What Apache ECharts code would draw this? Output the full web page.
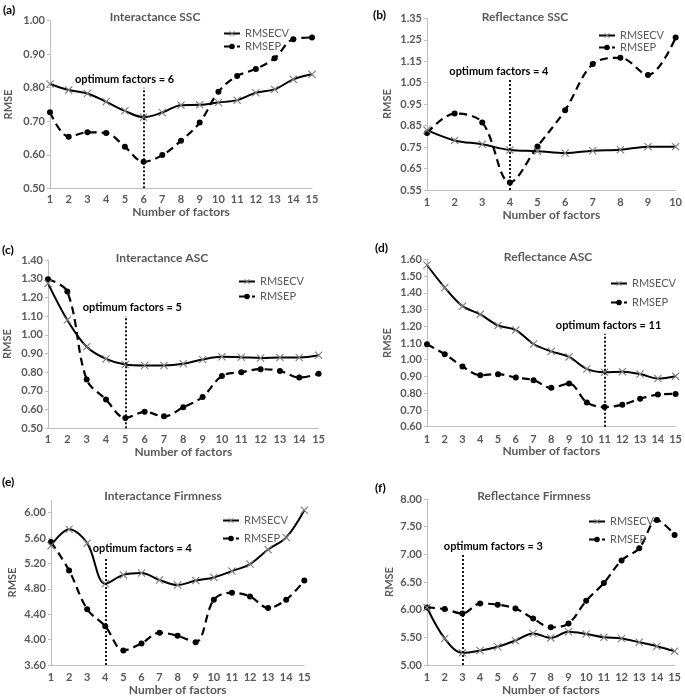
<!DOCTYPE html>
<html>
<head>
<meta charset="utf-8">
<script src="https://cdn.jsdelivr.net/npm/echarts@6/dist/echarts.min.js"></script>
<style>
html, body { margin: 0; padding: 0; background: #fff; }
#chart { width: 685px; height: 697px; }
</style>
</head>
<body>
<div id="chart"></div>
<script>
// number of factors
const factors15 = ['1', '2', '3', '4', '5', '6', '7', '8', '9', '10', '11', '12', '13', '14', '15'];
const factors10 = ['1', '2', '3', '4', '5', '6', '7', '8', '9', '10'];

// (a) Interactance SSC
const interSscCV = [0.811, 0.793, 0.783, 0.758, 0.731, 0.712, 0.726, 0.748, 0.749, 0.756, 0.763, 0.785, 0.795, 0.825, 0.840];
const interSscEP = [0.727, 0.654, 0.667, 0.665, 0.624, 0.579, 0.599, 0.642, 0.696, 0.788, 0.835, 0.856, 0.888, 0.945, 0.950];
const interSscTicks = [0.5, 0.6, 0.7, 0.8, 0.9, 1.0];

// (b) Reflectance SSC
const reflSscCV = [0.829, 0.781, 0.763, 0.736, 0.731, 0.722, 0.733, 0.738, 0.752, 0.752];
const reflSscEP = [0.815, 0.906, 0.865, 0.585, 0.753, 0.922, 1.137, 1.166, 1.086, 1.260];
const reflSscTicks = [0.55, 0.65, 0.75, 0.85, 0.95, 1.05, 1.15, 1.25, 1.35];

// (c) Interactance ASC
const interAscCV = [1.275, 1.079, 0.936, 0.871, 0.841, 0.836, 0.836, 0.845, 0.868, 0.882, 0.880, 0.876, 0.879, 0.879, 0.891];
const interAscEP = [1.297, 1.231, 0.761, 0.654, 0.555, 0.588, 0.564, 0.612, 0.668, 0.780, 0.800, 0.816, 0.807, 0.771, 0.792];
const interAscTicks = [0.5, 0.6, 0.7, 0.8, 0.9, 1.0, 1.1, 1.2, 1.3, 1.4];

// (d) Reflectance ASC
const reflAscCV = [1.566, 1.431, 1.320, 1.271, 1.205, 1.177, 1.094, 1.050, 1.017, 0.945, 0.925, 0.929, 0.915, 0.888, 0.902];
const reflAscEP = [1.092, 1.033, 0.960, 0.908, 0.914, 0.894, 0.878, 0.832, 0.858, 0.745, 0.717, 0.731, 0.767, 0.792, 0.796];
const reflAscTicks = [0.6, 0.7, 0.8, 0.9, 1.0, 1.1, 1.2, 1.3, 1.4, 1.5, 1.6];

// (e) Interactance Firmness
const interFirmCV = [5.48, 5.74, 5.52, 4.88, 5.02, 5.05, 4.94, 4.86, 4.93, 4.98, 5.08, 5.19, 5.42, 5.61, 6.04];
const interFirmEP = [5.54, 5.09, 4.48, 4.21, 3.83, 3.94, 4.11, 4.06, 3.96, 4.63, 4.74, 4.68, 4.50, 4.63, 4.93];
const interFirmTicks = [3.6, 4.0, 4.4, 4.8, 5.2, 5.6, 6.0];

// (f) Reflectance Firmness
const reflFirmCV = [6.04, 5.48, 5.22, 5.26, 5.33, 5.44, 5.57, 5.49, 5.60, 5.56, 5.50, 5.48, 5.41, 5.34, 5.25];
const reflFirmEP = [6.04, 6.01, 5.93, 6.11, 6.09, 6.02, 5.84, 5.68, 5.75, 6.16, 6.48, 6.89, 7.11, 7.62, 7.35];
const reflFirmTicks = [5.0, 5.5, 6.0, 6.5, 7.0, 7.5, 8.0];

const panels = [
  { tag: '(a)', title: 'Interactance SSC', x: factors15, cv: interSscCV, ep: interSscEP, ticks: interSscTicks, max: 1.0, opt: '6', optTop: 0.80,
    grid: [50, 20.7, 262, 167.6], tagPos: [3, 10], titlePos: [155, 17], legend: [218, 23, 2], shift: -19, yGap: 36, xMargin: 6, xGap: 16 },
  { tag: '(b)', title: 'Reflectance SSC', x: factors10, cv: reflSscCV, ep: reflSscEP, ticks: reflSscTicks, max: 1.35, opt: '4', optTop: 1.065,
    grid: [427, 18.3, 251, 171.7], tagPos: [373, 15], titlePos: [525, 17], legend: [593, 25, 1], shift: -11, yGap: 34, xMargin: 7, xGap: 16 },
  { tag: '(c)', title: 'Interactance ASC', x: factors15, cv: interAscCV, ep: interAscEP, ticks: interAscTicks, max: 1.4, opt: '5', optTop: 1.10,
    grid: [48, 260, 270.6, 168.3], tagPos: [2, 250], titlePos: [162, 258], legend: [233, 271, 4], shift: 7, yGap: 35, xMargin: 6, xGap: 17 },
  { tag: '(d)', title: 'Reflectance ASC', x: factors15, cv: reflAscCV, ep: reflAscEP, ticks: reflAscTicks, max: 1.6, opt: '11', optTop: 1.155,
    grid: [427, 259.3, 251.6, 167.4], tagPos: [375, 248], titlePos: [548, 257], legend: [605, 273, 8], shift: 4, yGap: 34, xMargin: 7, xGap: 18 },
  { tag: '(e)', title: 'Interactance Firmness', x: factors15, cv: interFirmCV, ep: interFirmEP, ticks: interFirmTicks, max: 6.2, opt: '4', optTop: 5.30,
    grid: [51, 500, 253.3, 167], tagPos: [2, 482], titlePos: [163, 496], legend: [217, 510, 7], shift: 37, yGap: 33, xMargin: 7, xGap: 19 },
  { tag: '(f)', title: 'Reflectance Firmness', x: factors15, cv: reflFirmCV, ep: reflFirmEP, ticks: reflFirmTicks, max: 8.0, opt: '3', optTop: 6.99,
    grid: [427, 499, 247.6, 167], tagPos: [375, 488], titlePos: [534, 496], legend: [583, 511, 7], shift: 31, yGap: 32, xMargin: 7, xGap: 19 }
];

const FONT = "Lato, 'Liberation Sans', Arial, sans-serif";
const GRAY = '#595959';
const AXIS = '#bfbfbf';
// little "x" marker
const crossSymbol = 'path://M0,1 L1,0 L5,4 L9,0 L10,1 L6,5 L10,9 L9,10 L5,6 L1,10 L0,9 L4,5 Z';

const chart = echarts.init(document.getElementById('chart'));

const grid = [], xAxis = [], yAxis = [], series = [], legend = [], graphic = [];

panels.forEach((p, i) => {
  grid.push({ left: p.grid[0], top: p.grid[1], width: p.grid[2], height: p.grid[3], containLabel: false });

  xAxis.push({
    type: 'category', gridIndex: i, data: p.x, boundaryGap: false,
    name: 'Number of factors', nameLocation: 'middle', nameGap: p.xGap,
    nameTextStyle: { color: GRAY, fontWeight: 'bold', fontSize: 12, fontFamily: FONT },
    axisLine: { lineStyle: { color: AXIS, width: 1 } },
    axisTick: { show: false },
    axisLabel: { color: GRAY, fontWeight: 'bold', fontSize: 11, fontFamily: FONT, margin: p.xMargin, interval: 0 },
    splitLine: { show: false }
  });

  yAxis.push({
    type: 'value', gridIndex: i, min: p.ticks[0], max: p.max,
    name: 'RMSE', nameLocation: 'middle', nameGap: p.yGap, nameRotate: 90,
    nameTextStyle: { color: GRAY, fontWeight: 'bold', fontSize: 11, fontFamily: FONT },
    axisLine: { show: true, lineStyle: { color: AXIS, width: 1 } },
    axisTick: { show: true, length: 3, lineStyle: { color: AXIS }, customValues: p.ticks },
    axisLabel: { color: GRAY, fontWeight: 'bold', fontSize: 11, fontFamily: FONT, margin: 5,
      customValues: p.ticks, formatter: v => v.toFixed(2) },
    splitLine: { show: false }
  });

  series.push({
    name: 'RMSECV', type: 'line', xAxisIndex: i, yAxisIndex: i, data: p.cv,
    smooth: 0.35, symbol: crossSymbol, symbolSize: 8,
    itemStyle: { color: '#808080' },
    lineStyle: { color: '#000', width: 2 },
    emphasis: { disabled: true }, z: 3
  });

  const optIdx = p.x.indexOf(p.opt);
  const pad = p.shift > 0 ? [0, 0, 0, p.shift * 2] : [0, -p.shift * 2, 0, 0];
  series.push({
    name: 'RMSEP', type: 'line', xAxisIndex: i, yAxisIndex: i, data: p.ep,
    smooth: 0.35, symbol: 'circle', symbolSize: 6,
    itemStyle: { color: '#000' },
    lineStyle: { color: '#000', width: 2.2, type: [8, 5] },
    emphasis: { disabled: true }, z: 2,
    markLine: {
      silent: true, symbol: ['none', 'none'], animation: false,
      lineStyle: { color: '#000', type: [2, 2], width: 1.8 },
      label: { show: true, position: 'end', distance: 3, formatter: 'optimum factors = ' + p.opt,
        color: '#000', fontWeight: 'bold', fontSize: 11, fontFamily: FONT, padding: pad },
      data: [[{ coord: [optIdx, p.ticks[0]] }, { coord: [optIdx, p.optTop] }]]
    }
  });

  legend.push({
    orient: 'vertical', left: p.legend[0], top: p.legend[1], itemGap: p.legend[2],
    itemWidth: 16, itemHeight: 7,
    textStyle: { color: GRAY, fontSize: 11, fontFamily: FONT, lineHeight: 7 },
    data: ['RMSECV', 'RMSEP']
  });

  graphic.push({
    type: 'text', x: p.tagPos[0], y: p.tagPos[1],
    style: { text: p.tag, fill: '#000', font: 'bold 12px ' + FONT, align: 'left', verticalAlign: 'middle' }
  });
  graphic.push({
    type: 'text', x: p.titlePos[0], y: p.titlePos[1],
    style: { text: p.title, fill: GRAY, font: 'bold 12px ' + FONT, align: 'center', verticalAlign: 'middle' }
  });
});

chart.setOption({
  animation: false,
  backgroundColor: '#fff',
  textStyle: { fontFamily: FONT },
  grid: grid,
  xAxis: xAxis,
  yAxis: yAxis,
  legend: legend,
  graphic: graphic,
  series: series
});
</script>
</body>
</html>
